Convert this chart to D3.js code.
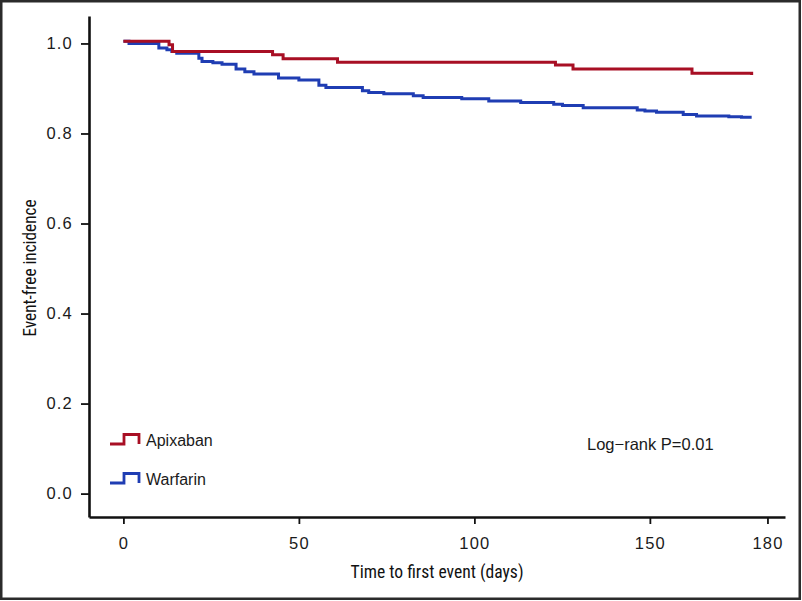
<!DOCTYPE html>
<html>
<head>
<meta charset="utf-8">
<script src="https://cdn.jsdelivr.net/npm/d3@7"></script>
<style>
html,body{margin:0;padding:0;background:#fff;}
svg{display:block;}
</style>
</head>
<body>
<script>
// ---- data ----
const apixTime = [0, 13.0, 14.0, 42.5, 45.5, 61.0, 123.1, 128.1, 162.0, 179.0];
const apixSurv = [1.005, 0.997, 0.982, 0.975, 0.966, 0.958, 0.952, 0.943, 0.934, 0.930];

const warfTime = [0, 1.6, 10.1, 12.4, 13.8, 15.2, 21.5, 22.4, 25.5, 28.1, 32.1, 34.6, 37.2, 44.2, 50.0, 55.7, 57.7, 68.1, 69.9, 74.2, 82.6, 85.4, 96.4, 104.1, 113.2, 122.6, 125.1, 131.0, 146.4, 148.6, 151.9, 159.5, 163.3, 172.5, 176.1, 179.0];
const warfSurv = [1.005, 1.000, 0.990, 0.986, 0.982, 0.978, 0.967, 0.960, 0.957, 0.954, 0.943, 0.937, 0.932, 0.923, 0.919, 0.907, 0.902, 0.895, 0.891, 0.888, 0.884, 0.880, 0.877, 0.872, 0.869, 0.865, 0.862, 0.857, 0.852, 0.850, 0.847, 0.842, 0.839, 0.837, 0.836, 0.836];

const seriesNames = ["Apixaban", "Warfarin"];
const seriesColors = ["#a80f24", "#1f3db3"];

const yTickValues = [0, 0.2, 0.4, 0.6, 0.8, 1.0];
const xTickValues = [0, 50, 100, 150, 183.5];
const xTickLabels = ["0", "50", "100", "150", "180"];

const xTitle = "Time to first event (days)";
const yTitle = "Event-free incidence";
const annotation = "Log\u2212rank P=0.01";

// ---- layout ----
const W = 802, H = 601;
const svg = d3.select("body").append("svg").attr("width", W).attr("height", H);

svg.append("rect").attr("x", 1.25).attr("y", 1.25).attr("width", W - 3.5).attr("height", H - 3.5)
  .attr("fill", "#fff").attr("stroke", "#2b2b2b").attr("stroke-width", 2.5);

const x = d3.scaleLinear().domain([-9.8, 188.5]).range([89, 785]);
const y = d3.scaleLinear().domain([-0.052, 1.061]).range([517, 16]);

const tickFont = "'Liberation Sans', Arial, sans-serif";

// y axis
const gy = svg.append("g").attr("transform", "translate(89,0)")
  .call(d3.axisLeft(y).tickValues(yTickValues).tickFormat(d3.format(".1f")).tickSize(8).tickSizeOuter(0).tickPadding(8));
// x axis
const gx = svg.append("g").attr("transform", "translate(0,517)")
  .call(d3.axisBottom(x).tickValues(xTickValues).tickFormat((d, i) => xTickLabels[i]).tickSize(7).tickSizeOuter(0).tickPadding(13));

[gx, gy].forEach(g => {
  g.select(".domain").attr("stroke", "#111").attr("stroke-width", 2.6);
  g.selectAll(".tick line").attr("stroke", "#111").attr("stroke-width", 1.8);
  g.selectAll(".tick text").attr("fill", "#1a1a1a")
    .style("font-family", tickFont).style("font-size", "16.5px").style("letter-spacing", "1.2px");
});

// curves
const line = d3.line().x(d => x(d[0])).y(d => y(d[1])).curve(d3.curveStepAfter);
const apix = apixTime.map((t, i) => [t, apixSurv[i]]);
const warf = warfTime.map((t, i) => [t, warfSurv[i]]);
svg.append("path").datum(warf).attr("d", line).attr("fill", "none")
  .attr("stroke", seriesColors[1]).attr("stroke-width", 3);
svg.append("path").datum(apix).attr("d", line).attr("fill", "none")
  .attr("stroke", seriesColors[0]).attr("stroke-width", 3);

// legend
const legY = [439, 478];
seriesNames.forEach((name, i) => {
  const cy = legY[i];
  const p = d3.path();
  p.moveTo(110, cy + 5); p.lineTo(124, cy + 5); p.lineTo(124, cy - 4.5);
  p.lineTo(139, cy - 4.5); p.lineTo(139, cy + 5);
  svg.append("path").attr("d", p.toString()).attr("fill", "none")
    .attr("stroke", seriesColors[i]).attr("stroke-width", 2.8);
  svg.append("text").attr("x", 146).attr("y", cy + 6.5).text(name)
    .attr("fill", "#1a1a1a").style("font-family", tickFont).style("font-size", "16px");
});

// annotation
svg.append("text").attr("x", 587).attr("y", 450).text(annotation)
  .attr("fill", "#1a1a1a").style("font-family", tickFont).style("font-size", "16.5px");

// axis titles
const titleFont = "'Liberation Sans Narrow', 'Roboto Condensed', 'Liberation Sans', Arial, sans-serif";
svg.append("text").attr("x", 437).attr("y", 578).attr("text-anchor", "middle").text(xTitle)
  .attr("fill", "#111").style("font-family", titleFont).style("font-size", "19px")
  .attr("textLength", 173).attr("lengthAdjust", "spacingAndGlyphs");
svg.append("text").attr("transform", "translate(36,268) rotate(-90)").attr("text-anchor", "middle").text(yTitle)
  .attr("fill", "#111").style("font-family", titleFont).style("font-size", "19px")
  .attr("textLength", 137).attr("lengthAdjust", "spacingAndGlyphs");
</script>
</body>
</html>
